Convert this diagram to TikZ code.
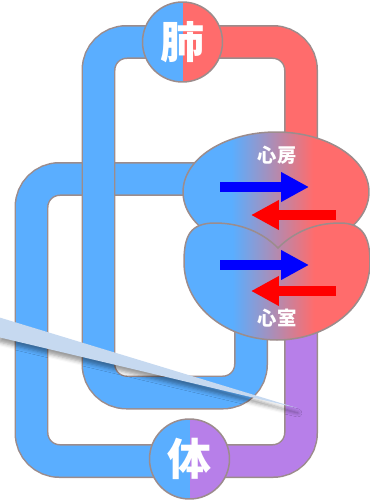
\documentclass[tikz,border=0pt]{standalone}
\usepackage{fontspec}
\usepackage{tikz}
\usetikzlibrary{arrows.meta,shapes.geometric,shadows.blur}
\newfontfamily\jpfont{Noto Sans CJK JP}
\definecolor{pipeblue}{RGB}{90,174,255}
\definecolor{pipered}{RGB}{255,108,108}
\definecolor{pipepurple}{RGB}{183,127,233}
\definecolor{pipeedge}{RGB}{156,140,140}
\definecolor{pointer}{RGB}{198,217,240}
\pgfdeclarehorizontalshading{heartshade}{100bp}{color(0bp)=(pipeblue); color(38bp)=(pipeblue); color(60bp)=(pipered); color(100bp)=(pipered)}

\begin{document}
\begin{tikzpicture}[x=0.02cm,y=-0.02cm,
        pipe/.style={draw=pipeedge,line width=0.03cm,double=#1,double distance=0.62cm,rounded corners=0.56cm},
        organ/.style={circle,draw=pipeedge,line width=0.03cm,fill=pipeblue,minimum size=1.6cm,inner sep=0pt,
            path picture={\fill[#1] (path picture bounding box.north) rectangle (path picture bounding box.south east);},
            text=white,font=\jpfont\bfseries\fontsize{25}{25}\selectfont},
        chamber/.style={draw=pipeedge,line width=0.03cm,shading=heartshade},
        chamberlabel/.style={text=white,font=\jpfont\bfseries\fontsize{11}{12}\selectfont},
        flow/.style={line width=0.2cm,-{Triangle[length=0.56cm,width=0.56cm]}}]
    \useasboundingbox (0,0) rectangle (369,500);

    \coordinate (lungc) at (182.5,42);
    \coordinate (bodyc) at (189.5,459);
    \coordinate (atriumc) at (276,192);
    \coordinate (bend0) at (260,179);
    \coordinate (bend1) at (31.5,461);
    \coordinate (bend2) at (301,300);
    \coordinate (bend3) at (98.5,392.5);
    \coordinate (bend4) at (251,300);
    \coordinate (bend5) at (301,170);

    \draw[pipe=pipeblue] (bend0) -| (bend1) -- (bend1 -| bodyc);
    \draw[pipe=pipepurple] (bend1 -| bodyc) -| (bend2);
    \draw[pipe=pipeblue] (bend4) |- (bend3) |- (lungc);
    \draw[pipe=pipered] (lungc) -| (bend5);

    \node[organ=pipered] (lung) at (lungc) {肺};
    \node[organ=pipepurple] (body) at (bodyc) {体};

    \node[chamber,ellipse,minimum width=3.72cm,minimum height=2.4cm,inner sep=0pt] (atrium) at (atriumc) {};
    \draw[chamber] (278,248) .. controls (262,232) and (240,223) .. (215,223)
        .. controls (190,223) and (184,236) .. (184,262)
        .. controls (184,308) and (228,340) .. (277,340)
        .. controls (326,340) and (370,308) .. (370,262)
        .. controls (370,236) and (362,223) .. (340,223)
        .. controls (315,223) and (294,232) .. (278,248) -- cycle;
    \node[chamberlabel] (atriumlabel) at (277,155) {心房};
    \node[chamberlabel] (ventriclelabel) at (277,318) {心室};

    \foreach \y in {187,265}{\draw[flow,blue] (220,\y) -- (309,\y);}
    \foreach \y in {215,291}{\draw[flow,red] (336,\y) -- (251,\y);}

    \fill[pointer,blur shadow={shadow xshift=0.02cm,shadow yshift=-0.1cm,shadow blur radius=0.08cm,shadow opacity=40}]
        (-2,317) -- (297,408) -- (-2,337) -- cycle;
\end{tikzpicture}
\end{document}
